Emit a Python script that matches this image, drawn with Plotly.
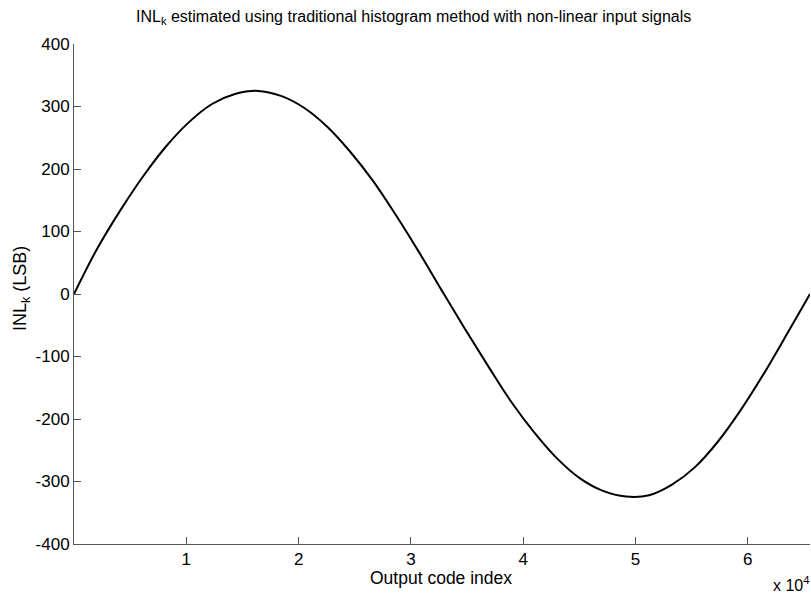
import plotly.graph_objects as go

# Output code index
code_index = [0, 2048, 4096, 6144, 8192, 10240, 12288, 14336, 16384, 18432,
              20480, 22528, 24576, 26624, 28672, 30720, 32768, 34816, 36864,
              38912, 40960, 43008, 45056, 47104, 49152, 51200, 53248, 55296,
              57344, 59392, 61440, 63488, 65535]
# INL_k in LSB
inl_lsb = [0, 72, 133, 188, 236, 275, 304, 320, 325, 317,
           298, 268, 228, 181, 126, 67, 5, -56, -115,
           -172, -221, -263, -295, -315, -324, -322, -305, -277,
           -236, -185, -127, -64, 0]

x_tick_vals = [10000, 20000, 30000, 40000, 50000, 60000]
x_tick_text = ["1", "2", "3", "4", "5", "6"]
y_tick_vals = [-400, -300, -200, -100, 0, 100, 200, 300, 400]
y_tick_text = ["-400", "-300", "-200", "-100", "0", "100", "200", "300", "400"]

W, H = 811, 594
L, R, T, B = 74, 1, 44, 50
pw, ph = W - L - R, H - T - B

def px2paper_x(px):
    return (px - L) / pw

def px2paper_y(py):
    return (H - B - py) / ph

FONT = "Liberation Sans, Arial, sans-serif"
AXC = "#555555"

fig = go.Figure()
fig.add_trace(go.Scatter(x=code_index, y=inl_lsb, mode="lines",
                         line=dict(color="black", width=2, shape="spline", smoothing=1.0),
                         hoverinfo="skip", showlegend=False))

fig.update_layout(
    width=W, height=H,
    margin=dict(l=L, r=R, t=T, b=B),
    paper_bgcolor="white", plot_bgcolor="white",
    font=dict(family=FONT, size=17, color="black"),
    showlegend=False,
    xaxis=dict(range=[0, 65536], showgrid=False, zeroline=False,
               showline=True, linecolor=AXC, linewidth=1,
               ticks="inside", ticklen=7, tickcolor=AXC, tickwidth=1,
               tickmode="array", tickvals=x_tick_vals, ticktext=x_tick_text,
               tickfont=dict(family=FONT, size=17, color="black")),
    yaxis=dict(range=[-400, 400], showgrid=False, zeroline=False,
               showline=True, linecolor=AXC, linewidth=1,
               ticks="inside", ticklen=7, tickcolor=AXC, tickwidth=1,
               tickmode="array", tickvals=y_tick_vals, ticktext=y_tick_text,
               tickfont=dict(family=FONT, size=17, color="black")),
)

annotations = [
    dict(text="INL<sub>k</sub> estimated using traditional histogram method with non-linear input signals",
         xref="paper", yref="paper", x=px2paper_x(413), y=px2paper_y(18),
         xanchor="center", yanchor="middle", showarrow=False,
         font=dict(family=FONT, size=16, color="black")),
    dict(text="INL<sub>k</sub> (LSB)", textangle=-90,
         xref="paper", yref="paper", x=px2paper_x(21), y=px2paper_y(289),
         xanchor="center", yanchor="middle", showarrow=False,
         font=dict(family=FONT, size=18, color="black")),
    dict(text="Output code index",
         xref="paper", yref="paper", x=px2paper_x(441), y=px2paper_y(578),
         xanchor="center", yanchor="middle", showarrow=False,
         font=dict(family=FONT, size=17.5, color="black")),
    dict(text="x 10<sup>4</sup>",
         xref="paper", yref="paper", x=px2paper_x(791), y=px2paper_y(584),
         xanchor="center", yanchor="middle", showarrow=False,
         font=dict(family=FONT, size=16, color="black")),
]
fig.update_layout(annotations=annotations)

fig.write_html("out.html")
